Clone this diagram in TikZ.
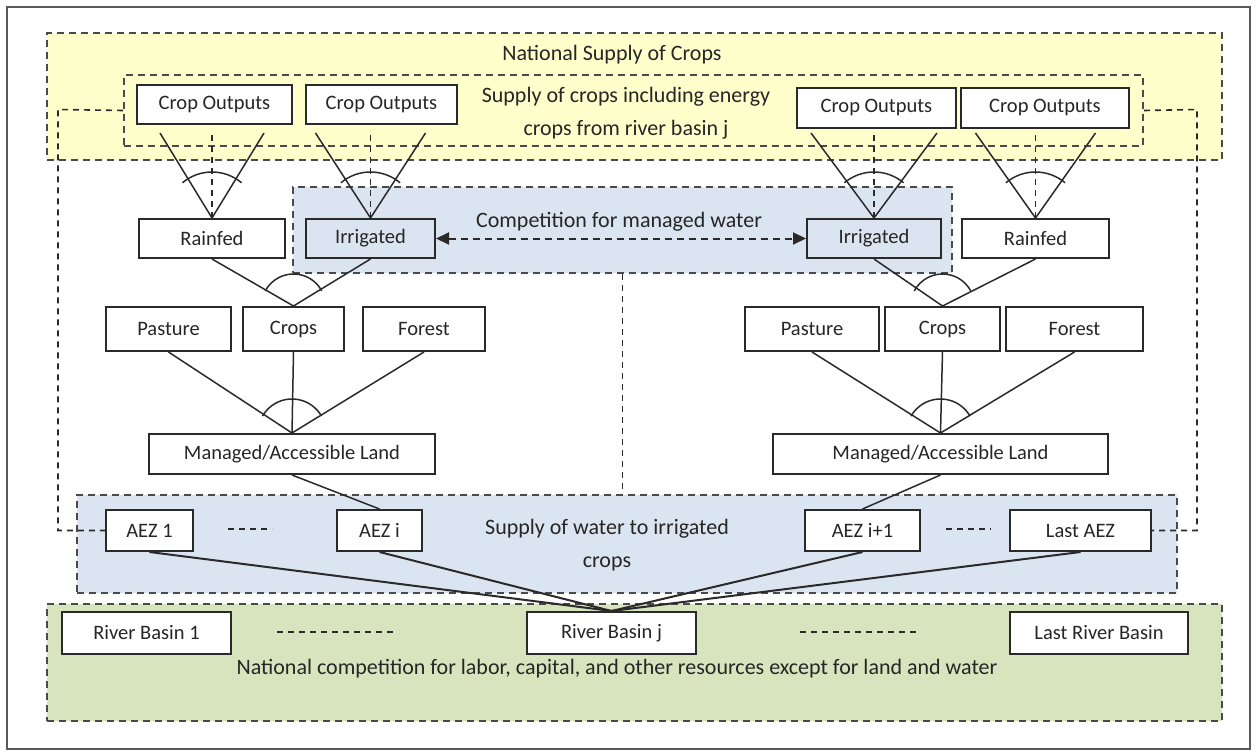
\documentclass[tikz,border=0pt]{standalone}
\usepackage{fontspec}
\setmainfont{Carlito}
\usepackage{tikz}
\usetikzlibrary{arrows.meta}
\definecolor{supyellow}{HTML}{FFFFCC}
\definecolor{watblue}{HTML}{DBE5F1}
\definecolor{labgreen}{HTML}{D7E4BD}
\definecolor{edge}{HTML}{2A2A2A}
\tikzset{
    sz/.style 2 args={minimum width=#1pt,minimum height=#2pt,anchor=north west},
    box/.style={draw=edge,fill=white,line width=2pt,inner sep=0pt,text=black!85,font=\fontsize{20.5}{24}\selectfont},
    zone/.style={draw=edge!85,line width=2pt,dash pattern=on 7pt off 5pt,inner sep=0pt},
    link/.style={draw=edge,line width=1.5pt},
    guide/.style={draw=edge,line width=1.6pt,dash pattern=on 6pt off 5pt},
    note/.style={font=\fontsize{22}{33}\selectfont,align=center,text=black!85}
}

\begin{document}
\begin{tikzpicture}[x=1pt,y=1pt]
\useasboundingbox (0,0) rectangle (1259,-752);
\draw[gray!70!black,line width=2pt] (7,-7) rectangle (1250,-749);

\node[zone,fill=supyellow,sz={1175}{127}] (natsup) at (46,-32) {};
\node[zone,sz={1019}{71}] (basin) at (123,-74) {};
\node[zone,fill=watblue,sz={659}{86}] (compw) at (292,-186) {};
\node[zone,fill=watblue,sz={1100}{98}] (water) at (76,-494) {};
\node[zone,fill=labgreen,sz={1175}{117}] (nation) at (46,-603) {};

\node[note] (natlab) at (612,-55) {National Supply of Crops};
\node[note] (basinlab) at (626,-113) {Supply of crops including energy\\crops from river basin j};
\node[note] (complab) at (619,-222) {Competition for managed water};
\node[note] (waterlab) at (607,-545) {Supply of water to irrigated\\crops};
\node[note] (nationlab) at (617,-669) {National competition for labor, capital, and other resources except for land and water};

\node[box,sz={155}{39}] (co1) at (136,-84) {Crop Outputs};
\node[box,sz={151}{39}] (co2) at (305,-84) {Crop Outputs};
\node[box,sz={159}{40}] (co3) at (796,-87) {Crop Outputs};
\node[box,sz={168}{40}] (co4) at (960,-87) {Crop Outputs};

\node[box,sz={146}{39}] (rfL) at (138,-218) {Rainfed};
\node[box,fill=watblue,sz={129}{39}] (irL) at (305,-218) {Irrigated};
\node[box,fill=watblue,sz={134}{39}] (irR) at (806,-218) {Irrigated};
\node[box,sz={147}{39}] (rfR) at (961,-218) {Rainfed};

\node[box,sz={125}{44}] (paL) at (105,-306) {Pasture};
\node[box,sz={101}{44}] (crL) at (242,-306) {Crops};
\node[box,sz={122}{44}] (foL) at (362,-306) {Forest};
\node[box,sz={134}{44}] (paR) at (744,-306) {Pasture};
\node[box,sz={115}{44}] (crR) at (884,-306) {Crops};
\node[box,sz={137}{44}] (foR) at (1005,-306) {Forest};

\node[box,sz={286}{40}] (maL) at (148,-433) {Managed/Accessible Land};
\node[box,sz={335}{40}] (maR) at (772,-433) {Managed/Accessible Land};

\node[box,sz={87}{41}] (az1) at (105,-509) {AEZ 1};
\node[box,sz={85}{41}] (azi) at (336,-509) {AEZ i};
\node[box,sz={115}{41}] (azj) at (804,-509) {AEZ i+1};
\node[box,sz={141}{41}] (azl) at (1009,-509) {Last AEZ};

\node[box,sz={169}{42}] (rb1) at (61,-611) {River Basin 1};
\node[box,sz={169}{42}] (rbj) at (526,-611) {River Basin j};
\node[box,sz={178}{42}] (rbl) at (1009,-611) {Last River Basin};

\foreach \dn/\w in {rfL/52, irL/55, irR/63, rfR/60} {
    \draw[link] ([xshift=-\w pt,yshift=85pt]\dn.north) -- (\dn.north) -- ([xshift=\w pt,yshift=85pt]\dn.north);
    \draw[guide,line width=1.3pt] (\dn.north) -- ++(0,85);
    \draw[link] ([shift={(50:46)}]\dn.north) arc[start angle=50,end angle=130,radius=46];
}

\foreach \a/\m/\b in {rfL/crL/irL, irR/crR/rfR} {
    \draw[link] (\a.south) -- (\m.north) -- (\b.south);
    \draw[link] ([shift={(28:32)}]\m.north) arc[start angle=28,end angle=152,radius=32];
}

\foreach \p/\c/\f/\m in {paL/crL/foL/maL, paR/crR/foR/maR} {
    \draw[link] (\p.south) -- (\m.north) -- (\f.south);
    \draw[link] (\c.south) -- (\m.north);
    \draw[link] ([shift={(30:34)}]\m.north) arc[start angle=30,end angle=150,radius=34];
}

\draw[link] (maL.south) -- (azi.north);
\draw[link] (maR.south) -- (azj.north);
\foreach \z in {az1,azi,azj,azl}
    \draw[link,line width=2pt] (\z.south) -- (rbj.north);

\draw[guide,line width=2pt,dash pattern=on 7pt off 5pt,{Triangle[length=13pt,width=12pt]}-{Triangle[length=13pt,width=12pt]}] (irL.east) -- (irR.west);
\draw[guide] (compw.south) -- (compw.south |- water.north);

\coordinate (lcorner) at (58,-109.5);
\coordinate (rcorner) at (1197,-109.5);
\draw[guide] (basin.west) -- (lcorner) |- (az1.west);
\draw[guide] (basin.east) -- (rcorner) |- (azl.east);

\draw[guide,line width=2pt] (228,-529) -- (272,-529);
\draw[guide,line width=2pt] (946,-529) -- (991,-529);
\draw[guide,line width=2pt] (277,-632) -- (397,-632);
\draw[guide,line width=2pt] (800,-632) -- (920,-632);
\end{tikzpicture}
\end{document}
